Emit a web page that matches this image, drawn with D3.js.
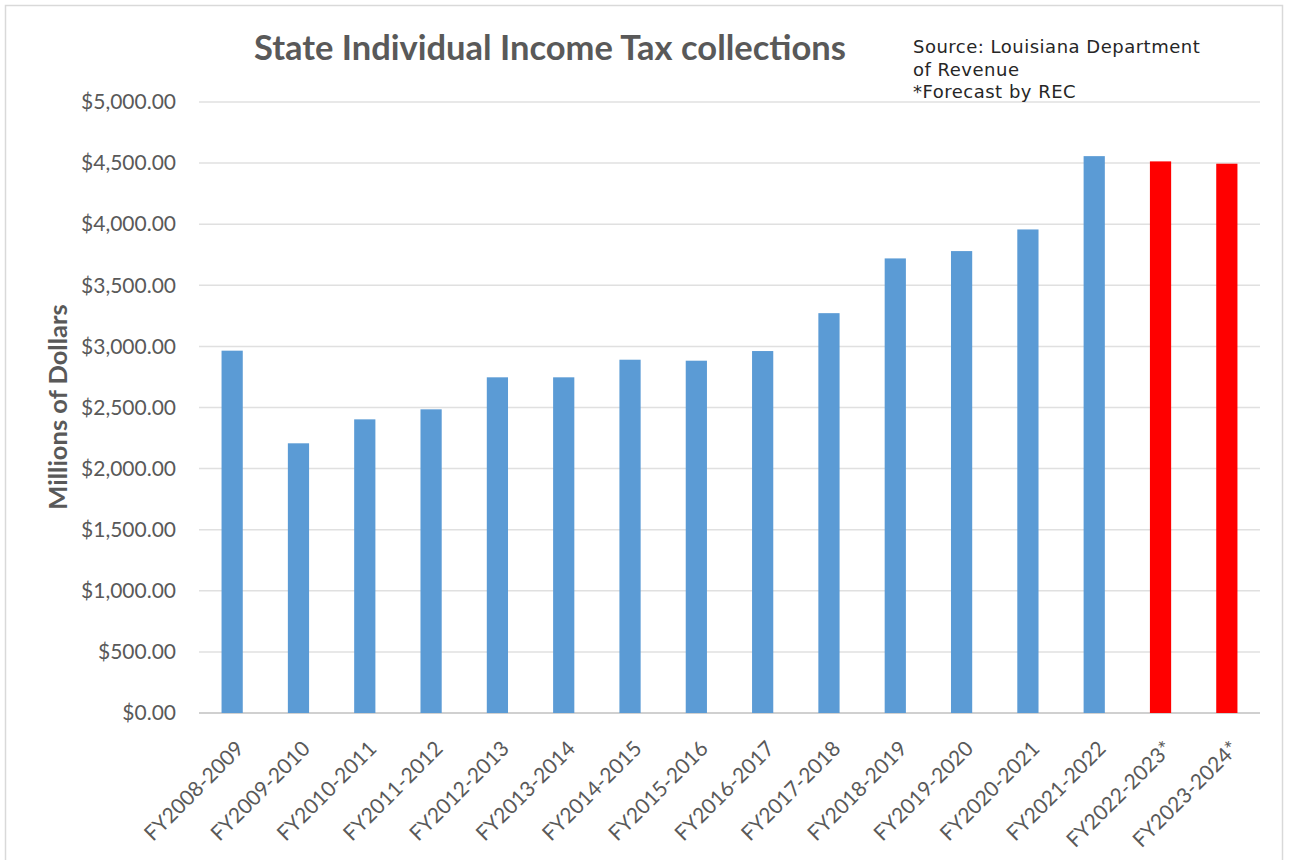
<!DOCTYPE html>
<html>
<head>
<meta charset="utf-8">
<script src="https://cdn.jsdelivr.net/npm/d3@7"></script>
<style>
  body { margin: 0; background: #fff; }
  svg { display: block; }
</style>
</head>
<body>
<svg id="chart" width="1289" height="860"></svg>
<script>
// fiscal years, last two are REC forecasts
var years = ['FY2008-2009', 'FY2009-2010', 'FY2010-2011', 'FY2011-2012', 'FY2012-2013',
  'FY2013-2014', 'FY2014-2015', 'FY2015-2016', 'FY2016-2017', 'FY2017-2018',
  'FY2018-2019', 'FY2019-2020', 'FY2020-2021', 'FY2021-2022', 'FY2022-2023*', 'FY2023-2024*'];
var collections = [2965, 2207, 2403, 2485, 2747, 2747, 2891, 2883, 2962, 3272,
  3720, 3780, 3957, 4557, 4514, 4495];
var forecast = [false, false, false, false, false, false, false, false, false, false,
  false, false, false, false, true, true];
var yTicks = [0, 500, 1000, 1500, 2000, 2500, 3000, 3500, 4000, 4500, 5000];
var sourceLines = ['Source: Louisiana Department', 'of Revenue', '*Forecast by REC'];

var svg = d3.select('#chart');
var tickColor = '#595959';
var font = 'Lato, "Open Sans", sans-serif';

// chart frame
svg.append('rect')
  .attr('x', 5.5).attr('y', 5.5)
  .attr('width', 1277).attr('height', 870)
  .attr('fill', 'none')
  .attr('stroke', '#d9d9d9')
  .attr('stroke-width', 1.5);

var x = d3.scaleBand()
  .domain(years)
  .range([199, 1260])
  .paddingInner(0.68)
  .paddingOuter(0.34);

var y = d3.scaleLinear()
  .domain([0, 5000])
  .range([713, 102]);

// gridlines
svg.append('g')
  .selectAll('line')
  .data(yTicks)
  .enter().append('line')
  .attr('x1', 199).attr('x2', 1260)
  .attr('y1', (d) => y(d)).attr('y2', (d) => y(d))
  .attr('stroke', (d) => d === 0 ? '#d0d0d0' : '#e0e0e0')
  .attr('stroke-width', (d) => d === 0 ? 2 : 1.5);

// y axis labels
var yAxis = d3.axisLeft(y)
  .tickValues(yTicks)
  .tickSize(0)
  .tickPadding(0)
  .tickFormat((d) => '$' + d3.format(',.2f')(d));

var yg = svg.append('g')
  .attr('transform', 'translate(176,0)')
  .call(yAxis);
yg.select('.domain').remove();
yg.selectAll('text')
  .attr('fill', tickColor)
  .style('font-family', font)
  .style('font-size', '21px');

// bars
svg.append('g')
  .selectAll('rect')
  .data(collections)
  .enter().append('rect')
  .attr('x', (d, i) => x(years[i]))
  .attr('y', (d) => y(d))
  .attr('width', x.bandwidth())
  .attr('height', (d) => y(0) - y(d))
  .attr('fill', (d, i) => forecast[i] ? '#ff0000' : '#5b9bd5');

// x axis labels, rotated
var xAxis = d3.axisBottom(x).tickSize(0).tickPadding(0);
var xg = svg.append('g')
  .attr('transform', 'translate(0,' + y(0) + ')')
  .call(xAxis);
xg.select('.domain').remove();
xg.selectAll('text')
  .attr('fill', tickColor)
  .attr('text-anchor', 'end')
  .attr('dy', null)
  .attr('y', 0)
  .attr('transform', 'translate(13,37) rotate(-45)')
  .style('font-family', font)
  .style('font-size', '21px');

// y axis title
svg.append('text')
  .attr('transform', 'translate(67,407) rotate(-90)')
  .attr('text-anchor', 'middle')
  .attr('fill', tickColor)
  .style('font-family', font)
  .style('font-size', '25.5px')
  .style('font-weight', 'bold')
  .text('Millions of Dollars');

// title
svg.append('text')
  .attr('x', 550).attr('y', 60)
  .attr('text-anchor', 'middle')
  .attr('fill', tickColor)
  .style('font-family', font)
  .style('font-size', '34.5px')
  .style('font-weight', 'bold')
  .text('State Individual Income Tax collections');

// source note
svg.append('g')
  .selectAll('text')
  .data(sourceLines)
  .enter().append('text')
  .attr('x', 913)
  .attr('y', (d, i) => 53 + i * 22.5)
  .attr('fill', '#262626')
  .style('font-family', '"DejaVu Sans", Verdana, sans-serif')
  .style('font-size', '18px')
  .style('letter-spacing', '0.5px')
  .text((d) => d);
</script>
</body>
</html>
